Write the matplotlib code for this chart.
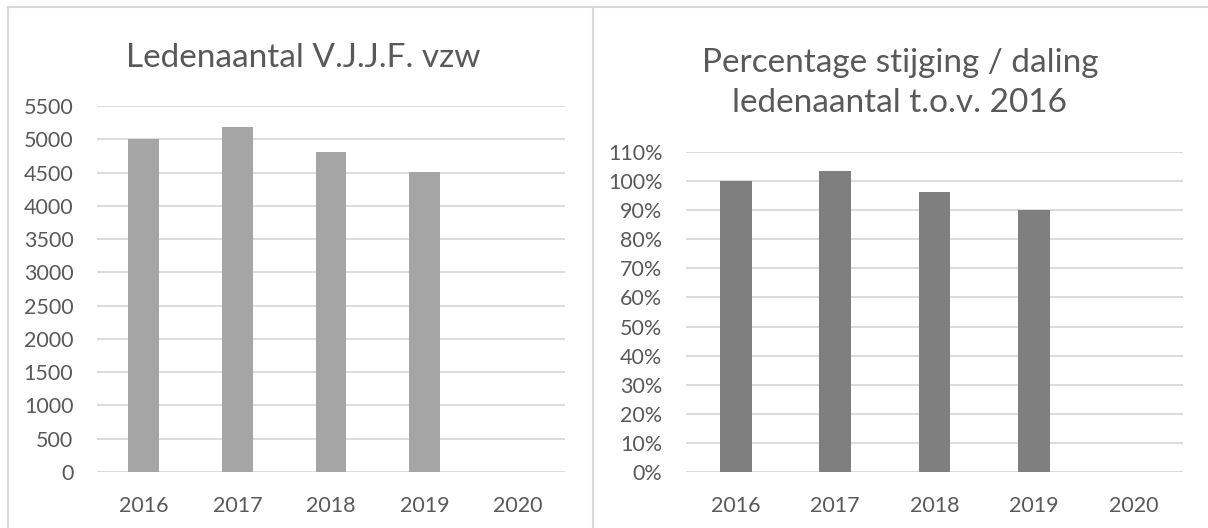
import matplotlib
matplotlib.use("Agg")
import matplotlib.pyplot as plt
from matplotlib.ticker import PercentFormatter
from matplotlib.lines import Line2D

years = ["2016", "2017", "2018", "2019", "2020"]
members = [5010, 5185, 4815, 4510, 0]
pct = [1.00, 1.035, 0.962, 0.90, 0.0]

left_title = "Ledenaantal V.J.J.F. vzw"
right_title = "Percentage stijging / daling\nledenaantal t.o.v. 2016"

plt.rcParams['font.family'] = ['Lato', 'DejaVu Sans']
TXT = "#595959"
GRID = "#D9D9D9"

fig = plt.figure(figsize=(12.08, 5.28), dpi=100)

def style(ax, ylim, ticks, ypad):
    ax.set_ylim(*ylim)
    ax.set_xlim(-0.5, len(years) - 0.5)
    ax.set_yticks(ticks)
    ax.set_xticks(range(len(years)))
    ax.set_xticklabels(years)
    for s in ax.spines.values():
        s.set_visible(False)
    ax.grid(axis='y', color=GRID, linewidth=1.3)
    ax.set_axisbelow(True)
    ax.tick_params(axis='both', length=0, labelsize=15.5, colors=TXT)
    ax.tick_params(axis='x', pad=17)
    ax.tick_params(axis='y', pad=ypad)

ax1 = fig.add_axes([97/1208, 1-472/528, (565-97)/1208, (472-106)/528])
ax1.bar(range(len(years)), members, width=0.33, color="#A5A5A5", zorder=2)
style(ax1, (0, 5500), list(range(0, 5501, 500)), 17)

ax2 = fig.add_axes([686/1208, 1-472/528, (1183-686)/1208, (472-152)/528])
ax2.bar(range(len(years)), pct, width=0.32, color="#7F7F7F", zorder=2)
style(ax2, (0, 1.1), [i/10 for i in range(12)], 17)
ax2.yaxis.set_major_formatter(PercentFormatter(1.0, decimals=0))

fig.text(303/1208, 1-58/528, left_title, ha='center', va='center', fontsize=24, color=TXT)
fig.text(900/1208, 1-83/528, right_title, ha='center', va='center', fontsize=24, color=TXT, linespacing=1.45)

# chart borders
fig.add_artist(Line2D([8/1208, 1], [1-7/528, 1-7/528], color=GRID, linewidth=1.5))
fig.add_artist(Line2D([8/1208, 8/1208], [0, 1-7/528], color=GRID, linewidth=1.5))
fig.add_artist(Line2D([593/1208, 593/1208], [0, 1-7/528], color=GRID, linewidth=1.5))

fig.savefig("out.png", dpi=100, facecolor="white")
